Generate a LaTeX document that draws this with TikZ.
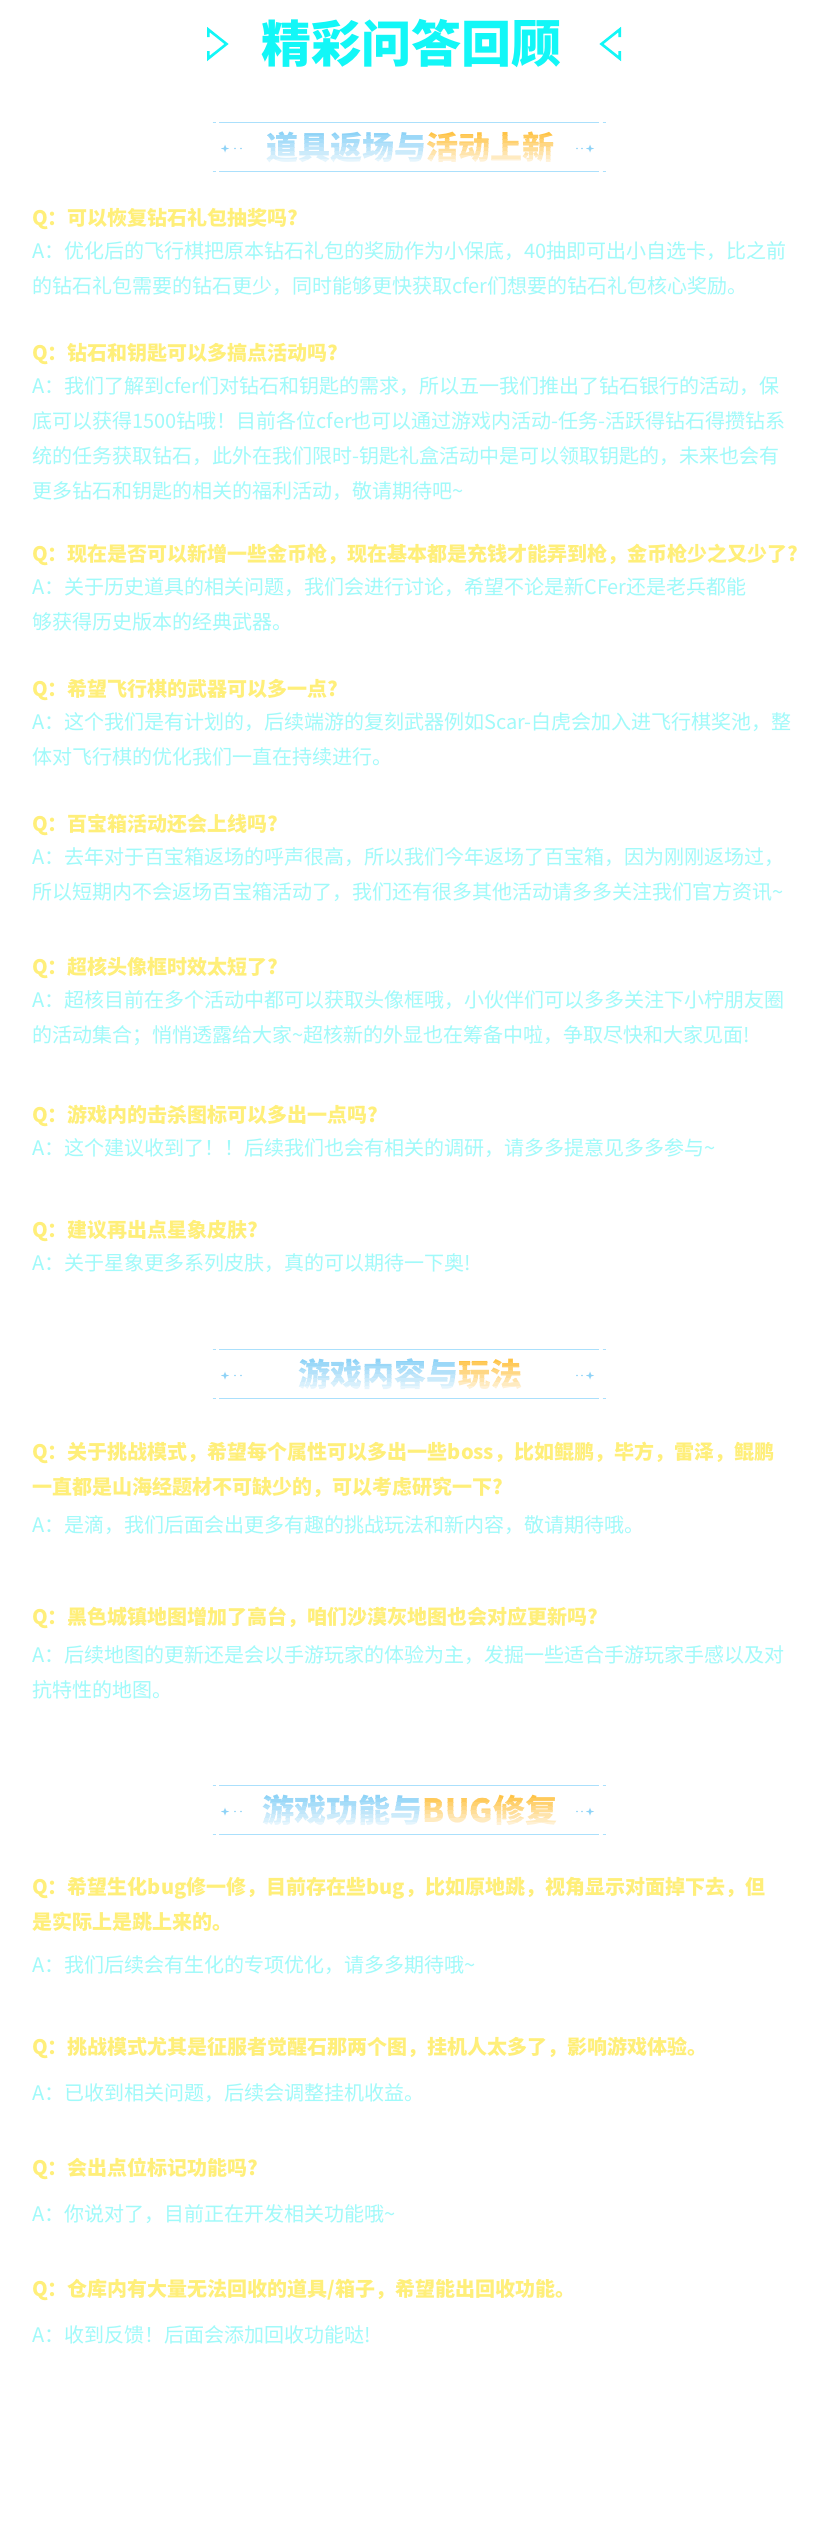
\documentclass[tikz,border=0pt]{standalone}
\usepackage{fontspec}
\setmainfont{Noto Sans CJK SC}
\usetikzlibrary{positioning}
\definecolor{qyellow}{HTML}{FFEF7A}
\definecolor{acyan}{HTML}{A0FAFA}
\definecolor{titlecyan}{HTML}{12F7F7}
\definecolor{hblue}{HTML}{8ED3F7}
\definecolor{hyellow}{HTML}{FFC447}
\definecolor{hline}{HTML}{ABE0FC}

\newcommand{\sectionhead}[4]{%
  \draw [headline] (219,#2-24.5) -- (599,#2-24.5);
  \draw [headline] (219,#2+24.5) -- (599,#2+24.5);
  \draw [headline] (212.5,#2-24.5) -- (215.5,#2-24.5);
  \draw [headline] (212.5,#2+24.5) -- (215.5,#2+24.5);
  \draw [headline] (602.5,#2-24.5) -- (605.5,#2-24.5);
  \draw [headline] (602.5,#2+24.5) -- (605.5,#2+24.5);
  \coordinate (#1-l) at (225,#2+1.5);
  \coordinate (#1-r) at (590,#2+1.5);
  \fill [sparkle] (#1-l) ++(0,-4) -- ++(1,3) -- ++(3,1) -- ++(-3,1) -- ++(-1,3) -- ++(-1,-3) -- ++(-3,-1) -- ++(3,-1) -- cycle;
  \fill [sparkle] (#1-r) ++(0,-4) -- ++(1,3) -- ++(3,1) -- ++(-3,1) -- ++(-1,3) -- ++(-1,-3) -- ++(-3,-1) -- ++(3,-1) -- cycle;
  \fill [sparkle] ([xshift=10pt]#1-l) circle (0.9) ([xshift=16pt]#1-l) circle (0.9);
  \fill [sparkle] ([xshift=-8pt]#1-r) circle (0.9) ([xshift=-13pt]#1-r) circle (0.9);
  \foreach \k in {0,...,7} {
    \pgfmathtruncatemacro\pct{100-11*\k}
    \begin{scope}
      \clip (150,#2-16+4*\k) rectangle (680,#2-11.6+4*\k);
      \node [headtext] (#1-\k) at (410,#2) {\color{hblue!\pct!white}#3\color{hyellow!\pct!white}#4};
    \end{scope}
  }%
}

\begin{document}
\begin{tikzpicture}[x=1pt, y=-1pt]
    \tikzstyle{question} = [anchor=base west, inner sep=0pt, text=qyellow, font=\fontsize{20}{24}\selectfont\bfseries]
    \tikzstyle{answer} = [anchor=base west, inner sep=0pt, text=acyan, font=\fontsize{20}{24}\selectfont]
    \tikzstyle{headtext} = [inner sep=0pt, font=\fontsize{32}{36}\selectfont\bfseries]
    \tikzstyle{headline} = [draw=hline, line width=1.7pt]
    \tikzstyle{sparkle} = [fill=hblue]
    \tikzstyle{arrowmark} = [draw=titlecyan, line width=2.6pt, line join=miter]

    \path [use as bounding box, fill=white] (0,0) rectangle (828,2535);

    \node [inner sep=0pt, text=titlecyan, font=\fontsize{50}{56}\selectfont\bfseries] (title) at (411,44) {精彩问答回顾};
    \coordinate (larrow) at (208.3,44);
    \coordinate (rarrow) at (619.7,44);
    \draw [arrowmark] ([yshift=7pt]larrow) -- ++(0,-7.5) -- ++(18.2,14.5) -- ++(-18.2,14.5) -- ++(0,-7.5);
    \draw [arrowmark] ([yshift=7pt]rarrow) -- ++(0,-7.5) -- ++(-18.2,14.5) -- ++(18.2,14.5) -- ++(0,-7.5);

    \sectionhead{head1}{147}{道具返场与}{活动上新}

    \node [question] (q1) at (32,225.5) {Q：可以恢复钻石礼包抽奖吗?};
    \node [answer] (a1) at (32,258.5) {A：优化后的飞行棋把原本钻石礼包的奖励作为小保底，40抽即可出小自选卡，比之前};
    \node [answer] (a1b) at (32,293.5) {的钻石礼包需要的钻石更少，同时能够更快获取cfer们想要的钻石礼包核心奖励。};

    \node [question] (q2) at (32,360.5) {Q：钻石和钥匙可以多搞点活动吗?};
    \node [answer] (a2) at (32,393.5) {A：我们了解到cfer们对钻石和钥匙的需求，所以五一我们推出了钻石银行的活动，保};
    \node [answer] (a2b) at (32,428.5) {底可以获得1500钻哦！目前各位cfer也可以通过游戏内活动-任务-活跃得钻石得攒钻系};
    \node [answer] (a2c) at (32,463.5) {统的任务获取钻石，此外在我们限时-钥匙礼盒活动中是可以领取钥匙的，未来也会有};
    \node [answer] (a2d) at (32,498.5) {更多钻石和钥匙的相关的福利活动，敬请期待吧\textasciitilde};

    \node [question] (q3) at (32,561.5) {Q：现在是否可以新增一些金币枪，现在基本都是充钱才能弄到枪，金币枪少之又少了?};
    \node [answer] (a3) at (32,594.5) {A：关于历史道具的相关问题，我们会进行讨论，希望不论是新CFer还是老兵都能};
    \node [answer] (a3b) at (32,629.5) {够获得历史版本的经典武器。};

    \node [question] (q4) at (32,696.5) {Q：希望飞行棋的武器可以多一点?};
    \node [answer] (a4) at (32,729.5) {A：这个我们是有计划的，后续端游的复刻武器例如Scar-白虎会加入进飞行棋奖池，整};
    \node [answer] (a4b) at (32,764.5) {体对飞行棋的优化我们一直在持续进行。};

    \node [question] (q5) at (32,831.5) {Q：百宝箱活动还会上线吗?};
    \node [answer] (a5) at (32,864.5) {A：去年对于百宝箱返场的呼声很高，所以我们今年返场了百宝箱，因为刚刚返场过，};
    \node [answer] (a5b) at (32,899.5) {所以短期内不会返场百宝箱活动了，我们还有很多其他活动请多多关注我们官方资讯\textasciitilde};

    \node [question] (q6) at (32,974.5) {Q：超核头像框时效太短了?};
    \node [answer] (a6) at (32,1007.5) {A：超核目前在多个活动中都可以获取头像框哦，小伙伴们可以多多关注下小柠朋友圈};
    \node [answer] (a6b) at (32,1042.5) {的活动集合；悄悄透露给大家\textasciitilde 超核新的外显也在筹备中啦，争取尽快和大家见面!};

    \node [question] (q7) at (32,1122.5) {Q：游戏内的击杀图标可以多出一点吗?};
    \node [answer] (a7) at (32,1155.5) {A：这个建议收到了！！后续我们也会有相关的调研，请多多提意见多多参与\textasciitilde};

    \node [question] (q8) at (32,1237.5) {Q：建议再出点星象皮肤?};
    \node [answer] (a8) at (32,1270.5) {A：关于星象更多系列皮肤，真的可以期待一下奥!};

    \sectionhead{head2}{1374}{游戏内容与}{玩法}

    \node [question] (q9) at (32,1459.5) {Q：关于挑战模式，希望每个属性可以多出一些boss，比如鲲鹏，毕方，雷泽，鲲鹏};
    \node [question] (q9b) at (32,1494.5) {一直都是山海经题材不可缺少的，可以考虑研究一下?};
    \node [answer] (a9) at (32,1532.5) {A：是滴，我们后面会出更多有趣的挑战玩法和新内容，敬请期待哦。};

    \node [question] (q10) at (32,1624.5) {Q：黑色城镇地图增加了高台，咱们沙漠灰地图也会对应更新吗?};
    \node [answer] (a10) at (32,1662.5) {A：后续地图的更新还是会以手游玩家的体验为主，发掘一些适合手游玩家手感以及对};
    \node [answer] (a10b) at (32,1697.5) {抗特性的地图。};

    \sectionhead{head3}{1810}{游戏功能与}{BUG修复}

    \node [question] (q11) at (32,1894.5) {Q：希望生化bug修一修，目前存在些bug，比如原地跳，视角显示对面掉下去，但};
    \node [question] (q11b) at (32,1929.5) {是实际上是跳上来的。};
    \node [answer] (a11) at (32,1972.5) {A：我们后续会有生化的专项优化，请多多期待哦\textasciitilde};

    \node [question] (q12) at (32,2054.5) {Q：挑战模式尤其是征服者觉醒石那两个图，挂机人太多了，影响游戏体验。};
    \node [answer] (a12) at (32,2100.5) {A：已收到相关问题，后续会调整挂机收益。};

    \node [question] (q13) at (32,2175.5) {Q：会出点位标记功能吗?};
    \node [answer] (a13) at (32,2221.5) {A：你说对了，目前正在开发相关功能哦\textasciitilde};

    \node [question] (q14) at (32,2296.5) {Q：仓库内有大量无法回收的道具/箱子，希望能出回收功能。};
    \node [answer] (a14) at (32,2342.5) {A：收到反馈！后面会添加回收功能哒!};
\end{tikzpicture}
\end{document}
